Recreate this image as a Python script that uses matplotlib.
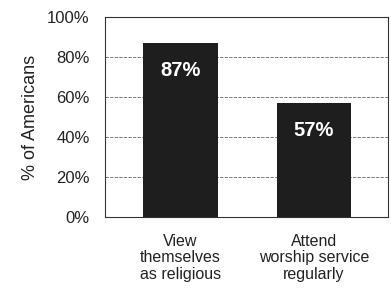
import matplotlib
matplotlib.use("Agg")
import matplotlib.pyplot as plt

categories = ["View\nthemselves\nas religious", "Attend\nworship service\nregularly"]
values = [87, 57]
labels = ["87%", "57%"]
yticks = [0, 20, 40, 60, 80, 100]
ytick_labels = ["0%", "20%", "40%", "60%", "80%", "100%"]

plt.rcParams['font.family'] = ['Liberation Sans', 'DejaVu Sans']

fig = plt.figure(figsize=(3.91, 3.07), dpi=100)
ax = fig.add_axes([0.2685, 0.293, 0.7235, 0.652])

x = list(range(len(categories)))
ax.bar(x, values, width=0.56, color="#1e1e1e", zorder=3)
for xi, v, lab in zip(x, values, labels):
    ax.text(xi, v - 13.8, lab, ha="center", va="center", color="white",
            fontsize=14.5, fontweight="bold", zorder=4)

ax.set_xlim(-0.566, 1.554)
ax.set_ylim(0, 100)
ax.set_yticks(yticks)
ax.set_yticklabels(ytick_labels, fontsize=12, color="#222222")
ax.set_xticks(x)
ax.set_xticklabels(categories, fontsize=11.5, color="#222222", linespacing=1.12)
ax.tick_params(axis="y", length=0, pad=11)
ax.tick_params(axis="x", length=0, pad=12)
ax.set_ylabel("% of Americans", fontsize=13, color="#222222", labelpad=6)
ax.yaxis.grid(True, linestyle=(0, (4, 1.5)), linewidth=0.6, color="#666666", zorder=0)
for s in ax.spines.values():
    s.set_linewidth(0.8)
    s.set_color("#333333")

fig.savefig("out.png", dpi=100)
